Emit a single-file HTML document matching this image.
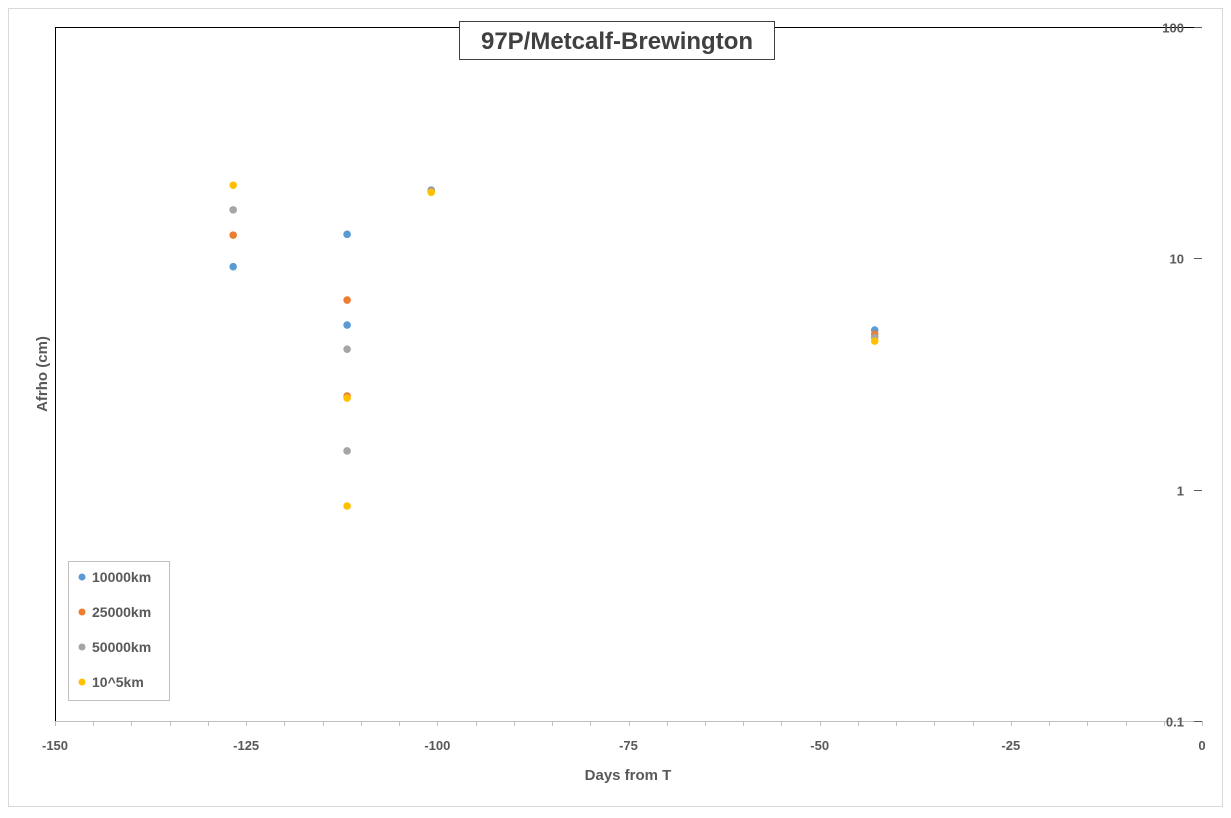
<!DOCTYPE html>
<html><head><meta charset="utf-8"><style>
body{margin:0;background:#fff;font-family:"Liberation Sans",Arial,sans-serif}
svg text{font-family:"Liberation Sans",Arial,sans-serif;font-weight:bold;fill:#595959}
</style></head><body>
<svg width="1231" height="813" xmlns="http://www.w3.org/2000/svg">
<rect x="8.5" y="8.5" width="1214" height="798" fill="#fff" stroke="#d9d9d9"/>
<g id="axes"></g>
<g id="marks"></g>
<rect x="459.5" y="21.5" width="315" height="38" fill="#fff" stroke="#404040"/>
<text x="617" y="49" text-anchor="middle" font-size="24" style="fill:#404040">97P/Metcalf-Brewington</text>
<text x="628" y="780" text-anchor="middle" font-size="15">Days from T</text>
<text transform="translate(47,374) rotate(-90)" text-anchor="middle" font-size="15">Afrho (cm)</text>
<g>
<rect x="68.5" y="561.5" width="101" height="139" fill="#fff" stroke="#bfbfbf"/>
<g id="legend"></g>
</g>
</svg>
<script>
const seriesNames=["10000km","25000km","50000km","10^5km"];
const colors=["#5b9bd5","#ed7d31","#a5a5a5","#ffc000"];
const days=[[-126.7,-111.8,-111.8,-100.8,-42.8],[-126.7,-111.8,-111.8,-100.8,-42.8],[-126.7,-111.8,-111.8,-100.8,-42.8],[-126.7,-111.8,-111.8,-100.8,-42.8]];
const s1=[9.2,12.7,5.15,19.7,4.9];
const s2=[12.6,6.6,2.54,19.5,4.7];
const s3=[16.2,4.05,1.47,19.4,4.55];
const s4=[20.7,2.49,0.85,19.3,4.39];
const seriesVals=[s1,s2,s3,s4];
const xTicks=[-150,-125,-100,-75,-50,-25,0];
const yTicks=[0.1,1,10,100];
const yLabels=["0.1","1","10","100"];
const X0=55,X1=1202,Y0=721,Y1=27;
const xs=v=>X0+(v+150)/150*(X1-X0);
const ys=v=>Y0-(Math.log10(v)+1)/3*(Y0-Y1);
const NS="http://www.w3.org/2000/svg";
function mk(t,a,p){const e=document.createElementNS(NS,t);for(const k in a)e.setAttribute(k,a[k]);p.appendChild(e);return e;}
const ax=document.getElementById('axes');
let l=mk('line',{x1:X0,y1:Y0+.5,x2:X1,y2:Y0+.5,stroke:'#bfbfbf'},ax);


l=mk('line',{x1:X0+.5,y1:Y1,x2:X0+.5,y2:Y0,stroke:'#000'},ax);


l=mk('line',{x1:X0,y1:Y1+.5,x2:X1,y2:Y1+.5,stroke:'#000'},ax);


for(let v=-150;v<=0;v+=5){const x=Math.round(xs(v))+.5;const t=mk('line',{x1:x,y1:Y0,x2:x,y2:Y0+5,stroke:'#bfbfbf'},ax);

}
xTicks.forEach(v=>{const t=mk('text',{x:xs(v),y:750,'text-anchor':'middle','font-size':'13'},ax);t.textContent=String(v);

});
yTicks.forEach((v,i)=>{const y=Math.round(ys(v))+.5;const t=mk('line',{x1:X1-8,y1:y,x2:X1,y2:y,stroke:'#595959'},ax);


const tx=mk('text',{x:1184,y:y+5,'text-anchor':'end','font-size':'13'},ax);tx.textContent=yLabels[i];

});
const mg=document.getElementById('marks');
seriesVals.forEach((vals,si)=>{vals.forEach((v,i)=>{const c=mk('circle',{cx:xs(days[si][i]),cy:ys(v),r:3.8,fill:colors[si]},mg);

});});
const lg=document.getElementById('legend');
seriesNames.forEach((n,i)=>{const y=577+i*35;const c=mk('circle',{cx:82,cy:y,r:3.5,fill:colors[i]},lg);


const t=mk('text',{x:92,y:y+5,'font-size':'14'},lg);t.textContent=n;

});
</script>
</body></html>
